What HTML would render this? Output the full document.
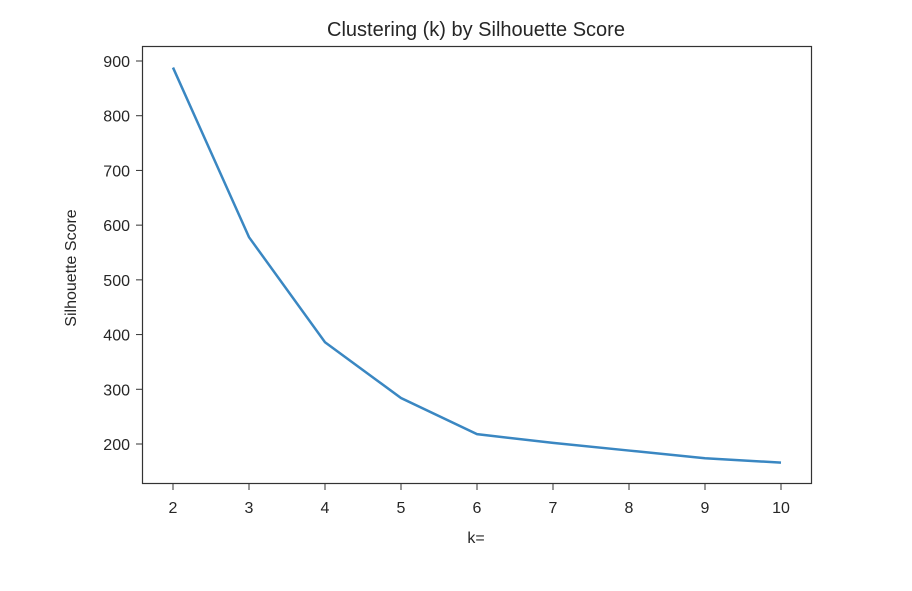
<!DOCTYPE html>
<html><head><meta charset="utf-8"><style>
body{margin:0;background:#fff;font-family:"Liberation Sans","DejaVu Sans",sans-serif;}
svg text{fill:#262626;}
</style></head><body>
<svg width="912" height="586" xmlns="http://www.w3.org/2000/svg" id="chart">
<text x="476" y="36" font-size="20" text-anchor="middle">Clustering (k) by Silhouette Score</text>
<text x="476" y="543" font-size="16" text-anchor="middle">k=</text>
<text transform="translate(76,268) rotate(-90)" font-size="16" text-anchor="middle">Silhouette Score</text>
<g id="ticks"></g>
<path id="line" fill="none" stroke="#3a87c2" stroke-width="2.5"/>
<rect x="142.5" y="46.5" width="669" height="437" fill="none" stroke="#333" stroke-width="1.2"/>
</svg>
<script>
const ks=[2,3,4,5,6,7,8,9,10];
const scores=[888,578,386,284,218,202,188,174,166];
const xTicks=[2,3,4,5,6,7,8,9,10];
const yTicks=[200,300,400,500,600,700,800,900];
const sx=v=>173+(v-2)*76;
const sy=v=>444-(v-200)*383/700;
const NS="http://www.w3.org/2000/svg";
const g=document.getElementById('ticks');
xTicks.forEach(t=>{
 const l=document.createElementNS(NS,'line');
 l.setAttribute('x1',sx(t));l.setAttribute('x2',sx(t));l.setAttribute('y1',483.5);l.setAttribute('y2',490);l.setAttribute('stroke','#333');
 
 
 g.appendChild(l);
 const tx=document.createElementNS(NS,'text');
 tx.setAttribute('x',sx(t));tx.setAttribute('y',513);tx.setAttribute('font-size','16');tx.setAttribute('text-anchor','middle');tx.textContent=t;
 
 
 g.appendChild(tx);
});
yTicks.forEach(t=>{
 const l=document.createElementNS(NS,'line');
 l.setAttribute('x1',136);l.setAttribute('x2',142.5);l.setAttribute('y1',sy(t));l.setAttribute('y2',sy(t));l.setAttribute('stroke','#333');
 
 
 g.appendChild(l);
 const tx=document.createElementNS(NS,'text');
 tx.setAttribute('x',130);tx.setAttribute('y',sy(t)+6);tx.setAttribute('font-size','16');tx.setAttribute('text-anchor','end');tx.textContent=t;
 
 
 g.appendChild(tx);
});
document.getElementById('line').setAttribute('d',ks.map((k,i)=>(i?'L':'M')+sx(k)+','+sy(scores[i])).join(' '));
</script>
</body></html>
